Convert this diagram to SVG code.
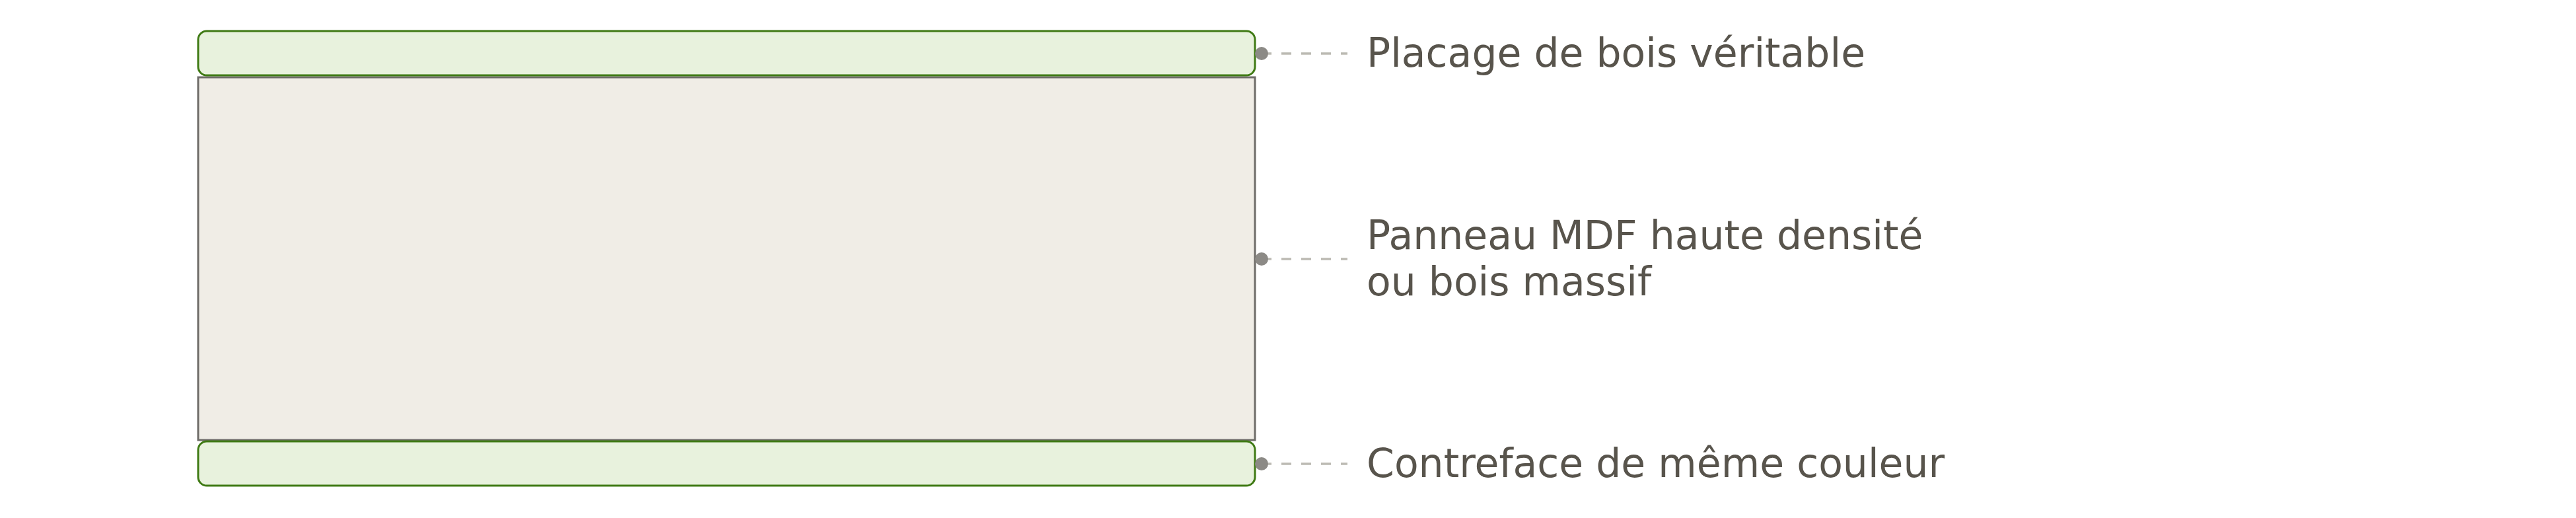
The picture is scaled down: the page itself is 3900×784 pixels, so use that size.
<svg xmlns="http://www.w3.org/2000/svg" width="3900" height="784" viewBox="0 0 3900 784">
<style>
.veneer{fill:#e8f2dd;stroke:#3f7a14;stroke-width:3}
.core{fill:#f0ede6;stroke:#6e6c68;stroke-width:3}
.lead{stroke:#bcbab3;stroke-width:3.5;stroke-dasharray:15 15;fill:none}
.dot{fill:#8c8a86}
.lbl{font-family:"DejaVu Sans",sans-serif;font-size:60px;fill:#58544c}
</style>
<rect width="3900" height="784" fill="#ffffff"/>
<g id="core"><rect class="core" x="300" y="117" width="1600" height="549"/></g>
<g id="top-veneer"><rect class="veneer" x="300" y="47" width="1600" height="67" rx="13"/></g>
<g id="bottom-veneer"><rect class="veneer" x="300" y="668" width="1600" height="67" rx="13"/></g>
<g id="connectors">
<line class="lead" x1="1910" y1="81" x2="2040" y2="81"/>
<circle class="dot" cx="1910" cy="81" r="10"/>
<line class="lead" x1="1910" y1="392" x2="2040" y2="392"/>
<circle class="dot" cx="1910" cy="392" r="10"/>
<line class="lead" x1="1910" y1="702" x2="2040" y2="702"/>
<circle class="dot" cx="1910" cy="702" r="10"/>
</g>
<g id="label-top"><text class="lbl" x="2069" y="101">Placage de bois véritable</text></g>
<g id="label-core"><text class="lbl" x="2069" y="377">Panneau MDF haute densité</text><text class="lbl" x="2069" y="447">ou bois massif</text></g>
<g id="label-bottom"><text class="lbl" x="2069" y="722">Contreface de même couleur</text></g>
</svg>
